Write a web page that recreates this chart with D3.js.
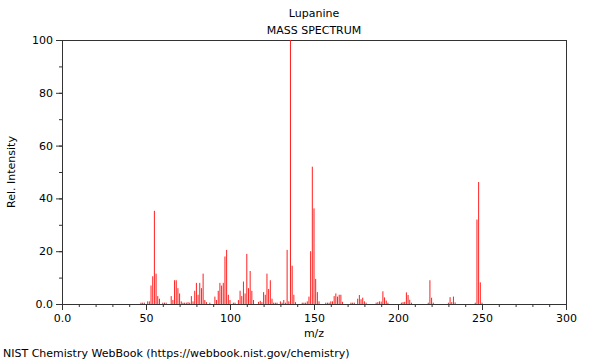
<!DOCTYPE html>
<html>
<head>
<meta charset="utf-8">
<script src="https://cdn.jsdelivr.net/npm/d3@7"></script>
<style>
  body { margin: 0; background: #fff; }
  text { font-family: "DejaVu Sans", sans-serif; fill: #000; }
</style>
</head>
<body>
<svg id="chart" width="600" height="360"></svg>
<script>
// m/z and relative intensity
const mz = [47, 48, 49, 51, 52, 53, 54, 55, 56, 57, 58, 60, 61, 62, 65, 66, 67, 68, 69, 70,
	71, 72, 73, 74, 75, 76, 77, 78, 79, 80, 81, 82, 83, 84, 85, 86, 88, 91, 92, 93,
	94, 95, 96, 97, 98, 99, 100, 102, 103, 105, 106, 107, 108, 109, 110, 111, 112, 113, 114, 117,
	118, 119, 120, 121, 122, 123, 124, 125, 126, 127, 128, 130, 131, 132, 133, 134, 135, 136, 137, 138,
	139, 143, 144, 145, 146, 147, 148, 149, 150, 151, 152, 153, 157, 158, 159, 160, 161, 162, 163, 164,
	165, 166, 167, 172, 173, 174, 176, 177, 178, 179, 180, 181, 187, 188, 189, 190, 191, 192, 193, 194,
	202, 203, 204, 205, 206, 207, 208, 218, 219, 220, 221, 230, 231, 232, 233, 234, 246, 247, 248, 249, 250];
const intensity = [0.5, 0.5, 0.5, 1, 1, 7, 10.5, 35.3, 11.5, 3, 2, 0.5, 0.5, 0.5, 3, 1.5, 9, 9, 6, 4,
	1, 0.5, 0.5, 0.5, 0.7, 0.5, 3, 1, 5, 8, 3.5, 8, 6, 11.5, 1.5, 0.7, 0.5, 2.8, 1.5, 5,
	8, 7, 8, 18, 20.5, 3.5, 1.5, 0.5, 0.5, 1.5, 5, 3, 8.5, 4, 19, 6, 12.5, 5, 1.5, 0.8,
	1.2, 0.7, 4.5, 3.5, 11.5, 5.7, 9, 2, 0.5, 0.5, 0.5, 1, 0.5, 1.5, 0.5, 20.5, 1, 100, 14.5, 3.5,
	0.7, 0.5, 0.5, 0.5, 1, 2.8, 20, 52, 36.2, 9.5, 4.5, 1, 0.5, 0.5, 0.5, 1, 1, 3, 4, 2.8,
	3.5, 3.5, 0.8, 0.5, 0.5, 0.5, 2, 3.4, 1.8, 2.4, 1, 0.5, 0.5, 0.7, 1, 0.9, 4.8, 2.5, 1.3, 0.5,
	0.5, 0.7, 0.8, 4.4, 3.4, 1.6, 0.5, 0.5, 9, 2.4, 0.5, 0.5, 2.6, 0.7, 2.8, 0.6, 0.5, 32, 46.2, 8.2, 0.5];
const xTicks = [0, 50, 100, 150, 200, 250, 300];
const yTicks = [0, 20, 40, 60, 80, 100];

(function() {
	let svg = d3.select("#chart"),
		margin = {top: 40, right: 34, bottom: 56, left: 62},
		width = 600 - margin.left - margin.right,
		height = 360 - margin.top - margin.bottom;

	let g = svg.append("g").attr("transform", "translate(" + margin.left + "," + margin.top + ")");

	let x = d3.scaleLinear().domain([0, 300]).range([0, width]);
	let y = d3.scaleLinear().domain([0, 100]).range([height, 0]);

	let fmt = function(d) { return d === 0 ? "0.0" : d; };

	// minor ticks first, then the labelled ones
	g.append("g")
		.attr("transform", "translate(0," + height + ")")
		.call(d3.axisBottom(x).tickValues(d3.range(0, 301, 10)).tickSize(3).tickFormat(""))
		.call(s => s.select(".domain").remove());
	g.append("g")
		.call(d3.axisLeft(y).tickValues(d3.range(0, 101, 10)).tickSize(3).tickFormat(""))
		.call(s => s.select(".domain").remove());

	let xAxis = g.append("g")
		.attr("transform", "translate(0," + height + ")")
		.call(d3.axisBottom(x).tickValues(xTicks).tickSize(6).tickPadding(4).tickFormat(fmt));
	let yAxis = g.append("g")
		.call(d3.axisLeft(y).tickValues(yTicks).tickSize(6).tickPadding(3).tickFormat(fmt));

	[xAxis, yAxis].forEach(a => {
		a.selectAll("text").style("font-size", "11px").style("font-family", "DejaVu Sans");
		a.select(".domain").remove();
	});
	svg.selectAll(".tick line").attr("stroke", "#333");

	// frame round the plot
	g.append("rect")
		.attr("x", 0.5).attr("y", 0.5)
		.attr("width", width).attr("height", height)
		.attr("fill", "none")
		.attr("stroke", "#333");

	// the peaks
	g.selectAll(".peak")
		.data(mz)
		.enter()
		.append("line")
		.attr("class", "peak")
		.attr("x1", d => x(d))
		.attr("x2", d => x(d))
		.attr("y1", y(0))
		.attr("y2", (d, i) => y(intensity[i]))
		.attr("stroke", "#ff2020")
		.attr("stroke-width", 1);

	svg.append("text")
		.attr("x", margin.left + width / 2)
		.attr("y", 17)
		.attr("text-anchor", "middle")
		.style("font-size", "11px")
		.text("Lupanine");
	svg.append("text")
		.attr("x", margin.left + width / 2)
		.attr("y", 34)
		.attr("text-anchor", "middle")
		.style("font-size", "11px")
		.text("MASS SPECTRUM");

	svg.append("text")
		.attr("x", margin.left + width / 2)
		.attr("y", 337)
		.attr("text-anchor", "middle")
		.style("font-size", "11px")
		.text("m/z");
	svg.append("text")
		.attr("transform", "translate(15," + (margin.top + height / 2) + ") rotate(-90)")
		.attr("text-anchor", "middle")
		.style("font-size", "11px")
		.text("Rel. Intensity");

	svg.append("text")
		.attr("x", 3)
		.attr("y", 357)
		.style("font-size", "11px")
		.text("NIST Chemistry WebBook (https://webbook.nist.gov/chemistry)");
})();
</script>
</body>
</html>
